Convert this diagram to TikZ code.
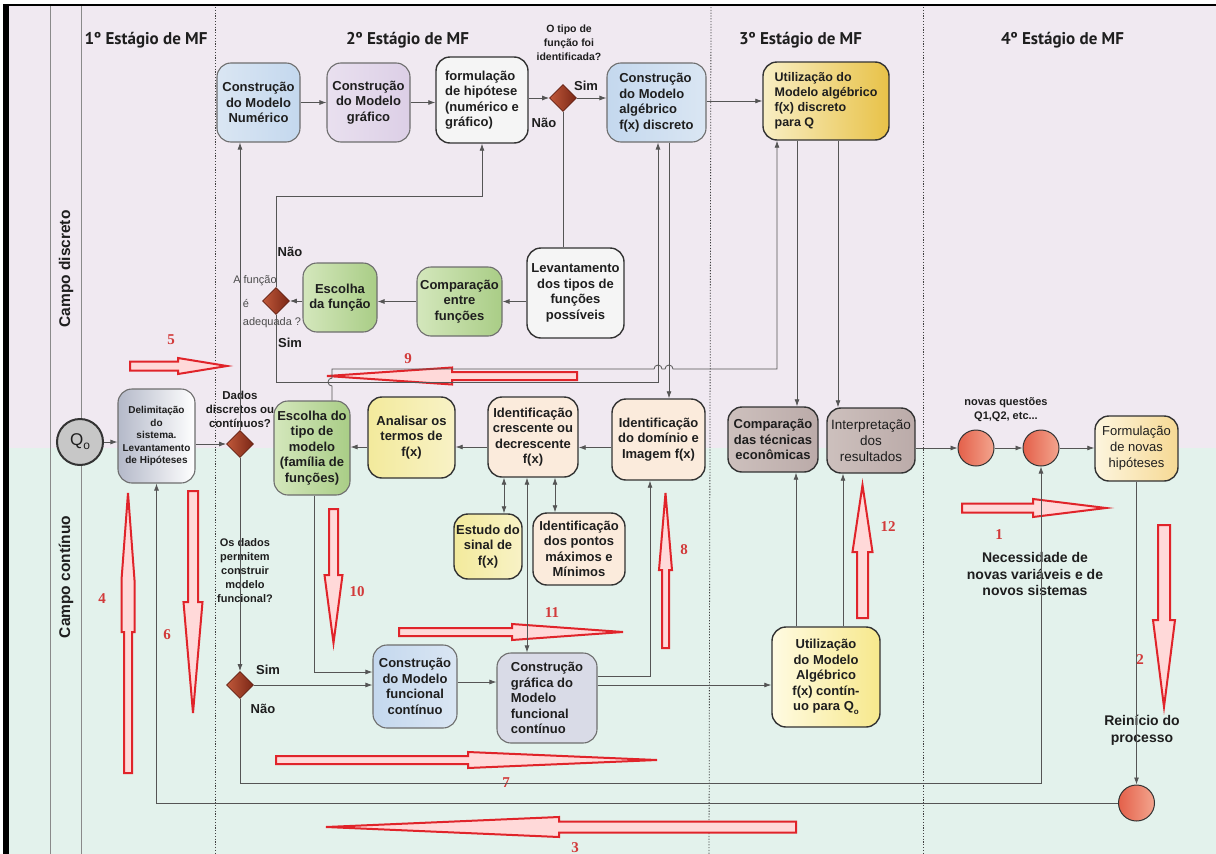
\documentclass[tikz,border=0pt]{standalone}
\usepackage{fontspec}
\setmainfont{Liberation Sans}
\newfontfamily\hdrfont{PT Sans}
\newfontfamily\numfont{Liberation Serif}
\usetikzlibrary{arrows.meta,shapes.geometric,calc}

\definecolor{lavbg}{HTML}{F0E9F1}
\definecolor{mintbg}{HTML}{E3F2EC}
\definecolor{conncol}{HTML}{555555}
\definecolor{redarr}{HTML}{E0242A}
\definecolor{rednum}{HTML}{D23A3A}
\definecolor{lanecol}{HTML}{8A8A8A}
\definecolor{boxdraw}{HTML}{6E6E6E}
\definecolor{boxdark}{HTML}{333333}
\definecolor{txt}{HTML}{1E1E1E}
\definecolor{blueA}{HTML}{DAE6F3}
\definecolor{blueB}{HTML}{C4D8EE}
\definecolor{lilA}{HTML}{E9E0EF}
\definecolor{lilB}{HTML}{DCCFE6}
\definecolor{greenA}{HTML}{D4E7BC}
\definecolor{greenB}{HTML}{A9CD86}
\definecolor{goldA}{HTML}{F8EEC4}
\definecolor{goldB}{HTML}{E8C248}
\definecolor{peachA}{HTML}{FBEBDC}
\definecolor{peachB}{HTML}{F3CFAA}
\definecolor{yelA}{HTML}{F3EA9C}
\definecolor{yelB}{HTML}{F8F2C6}
\definecolor{taupeA}{HTML}{CDC0BD}
\definecolor{taupeB}{HTML}{BBABA9}
\definecolor{creamA}{HTML}{FDF5DE}
\definecolor{creamB}{HTML}{F6D994}
\definecolor{grayblue}{HTML}{D9DBE7}
\definecolor{delimA}{HTML}{B4B9C9}
\definecolor{ucA}{HTML}{FFFBE2}
\definecolor{ucB}{HTML}{F7E88C}
\definecolor{diamA}{HTML}{C0583A}
\definecolor{diamB}{HTML}{7A2716}
\definecolor{salA}{HTML}{E4604A}
\definecolor{salB}{HTML}{F3A58E}

\tikzset{
  box/.style={draw=boxdraw, line width=1.1pt, rounded corners=14pt, align=center,
    font=\fontsize{13}{15.5}\selectfont\bfseries, text=txt, inner sep=1pt},
  darkbox/.style={box, draw=boxdark, line width=1.4pt},
  conn/.style={draw=conncol, line width=0.8pt, -{Latex[length=7pt,width=5pt]}},
  conntwo/.style={draw=conncol, line width=0.8pt, {Latex[length=7pt,width=5pt]}-{Latex[length=7pt,width=5pt]}},
  plainline/.style={draw=conncol, line width=0.8pt},
  diam/.style={diamond, minimum width=27, minimum height=27, inner sep=0pt, draw=diamB!80!black,
    line width=0.8pt, left color=diamA, right color=diamB},
  salmon/.style={circle, minimum size=36, inner sep=0pt, draw=black!80, line width=1pt,
    left color=salA, right color=salB},
  lbl/.style={font=\fontsize{10.5}{14}\selectfont\bfseries, text=txt, align=center, inner sep=0pt},
  simnao/.style={font=\fontsize{13}{13}\selectfont\bfseries, text=txt, inner sep=0pt},
  hdr/.style={font=\hdrfont\fontsize{17}{17}\selectfont\bfseries, text=txt, inner sep=0pt},
  lane/.style={font=\fontsize{15.5}{15.5}\selectfont\bfseries, text=txt, rotate=90, inner sep=0pt},
  rnum/.style={font=\numfont\fontsize{15}{15}\selectfont\bfseries, text=rednum, inner sep=0pt},
  redarrow/.style={draw=redarr, line width=2pt, fill=white!85!red, line join=miter},
  stagedot/.style={draw=black!75, line width=0.8pt, dash pattern=on 1.2pt off 1.6pt},
}

\newcommand{\redH}[7]{% tail, s1, s2, tip, y, h, H
  \draw[redarrow] (#1,#5-#6) -- (#2,#5-#6) -- (#2,#5-#7) -- (#3,#5-#7) -- (#4,#5)
    -- (#3,#5+#7) -- (#2,#5+#7) -- (#2,#5+#6) -- (#1,#5+#6) -- cycle;}
\newcommand{\redV}[7]{% tail, s1, s2, tip, x, h, H
  \draw[redarrow] (#5-#6,#1) -- (#5-#6,#2) -- (#5-#7,#2) -- (#5-#7,#3) -- (#5,#4)
    -- (#5+#7,#3) -- (#5+#7,#2) -- (#5+#6,#2) -- (#5+#6,#1) -- cycle;}

\begin{document}
\begin{tikzpicture}[x=1pt,y=-1pt]
\useasboundingbox (0,0) rectangle (1216,854);
% background
\fill[white] (0,0) rectangle (1216,854);
\fill[lavbg] (8,5) rectangle (1216,448);
\fill[mintbg] (8,448) rectangle (1216,854);
\fill[black] (3,4) rectangle (9,854);
\draw[line width=1.6pt] (3,5) -- (1216,5);
\draw[lanecol, line width=0.8pt] (50,6) -- (50,854);
\draw[lanecol, line width=0.8pt] (81,6) -- (81,854);
\draw[stagedot] (215,7) -- (215,854);
\draw[stagedot] (711,7) -- (709,854);
\draw[stagedot] (923,7) -- (923,854);

% lane and stage headers
\node[lane] (lanedisc) at (66,269) {Campo discreto};
\node[lane] (lanecont) at (66,577) {Campo contínuo};
\node[hdr] (h1) at (146,40) {1º Estágio de MF};
\node[hdr] (h2) at (407.5,40) {2º Estágio de MF};
\node[hdr] (h3) at (800.5,40) {3º Estágio de MF};
\node[hdr] (h4) at (1062.5,40) {4º Estágio de MF};

% red hollow arrows
\redH{130}{178}{178}{227}{366}{4.5}{8}
\redH{577}{452}{452}{327}{376}{4}{8.5}
\redH{399}{512}{512}{623}{632}{4}{8}
\redH{276}{468}{468}{657}{760}{4}{8}
\redH{796}{559}{559}{326}{827}{5.5}{10}
\redH{962}{1033}{1033}{1106}{508}{4.5}{9}
\redV{773}{632}{580}{493}{128}{4}{6.5}
\redV{491}{602}{602}{713}{193}{5}{9.5}
\redV{509}{575}{575}{643}{333.5}{4.5}{9}
\redV{648}{570}{570}{493}{665.5}{3.5}{6.5}
\redV{618}{552}{552}{485}{862.5}{5.5}{10}
\redV{525}{620}{620}{707}{1164}{6}{11}

% red numbers
\node[rnum] (n1) at (999,535) {1};
\node[rnum] (n2) at (1140,660) {2};
\node[rnum] (n3) at (575,848) {3};
\node[rnum] (n4) at (102,599) {4};
\node[rnum] (n5) at (171,340) {5};
\node[rnum] (n6) at (167,635) {6};
\node[rnum] (n7) at (506,783) {7};
\node[rnum] (n8) at (684,550) {8};
\node[rnum] (n9) at (408,359) {9};
\node[rnum] (n10) at (357,592) {10};
\node[rnum] (n11) at (552,613) {11};
\node[rnum] (n12) at (888,527) {12};

% ---------- nodes: discrete lane
\node[box, left color=blueA, right color=blueB, minimum width=83, minimum height=79] (numerico) at (258.5,102.5) {Construção\\do Modelo\\Numérico};
\node[box, left color=lilA, right color=lilB, minimum width=83, minimum height=79] (grafico) at (368.5,102.5) {Construção\\do Modelo\\gráfico};
\node[darkbox, fill=black!4, align=left, minimum width=92, minimum height=86] (hipotese) at (482,100) {formulação\\de hipótese\\(numérico e\\gráfico)};
\node[diam] (d1) at (563,98) {};
\node[box, left color=blueB, right color=blueA, align=left, minimum width=99, minimum height=79] (algebrico) at (656.5,102.5) {Construção\\do Modelo\\algébrico\\f(x) discreto};
\node[darkbox, left color=goldA, right color=goldB, align=left, font=\fontsize{12.5}{15}\selectfont\bfseries, minimum width=126, minimum height=78] (utildisc) at (826,101) {Utilização do\\Modelo algébrico\\f(x) discreto\\para Q};

\node[box, left color=greenA, right color=greenB, minimum width=74, minimum height=69] (escfunc) at (340,297.5) {Escolha\\da função};
\node[box, left color=greenA, right color=greenB, minimum width=85, minimum height=69] (comparacao) at (459.5,301.5) {Comparação\\entre\\funções};
\node[darkbox, fill=black!4, minimum width=97, minimum height=90] (levant) at (575.5,293) {Levantamento\\dos tipos de\\funções\\possíveis};
\node[diam] (d2) at (276,301) {};

% ---------- middle row
\node[circle, draw=boxdark, line width=2pt, fill=black!22, minimum size=46, inner sep=0pt, font=\fontsize{17}{17}\selectfont, text=txt] (q0) at (80,442) {Q\raisebox{-4pt}{\fontsize{12}{12}\selectfont o}};
\node[box, left color=delimA, right color=white, font=\fontsize{10}{12.5}\selectfont\bfseries, minimum width=77, minimum height=94] (delim) at (156.5,436) {Delimitação\\do\\sistema.\\Levantamento\\de Hipóteses};
\node[diam] (d3) at (240,444) {};
\node[box, left color=greenA, right color=greenB, minimum width=76, minimum height=94] (esctipo) at (312,448) {Escolha do\\tipo de\\modelo\\(família de\\funções)};
\node[darkbox, left color=yelA, right color=yelB, minimum width=87, minimum height=81] (analisar) at (411.5,437.5) {Analisar os\\termos de\\f(x)};
\node[darkbox, left color=peachA, middle color=peachB, right color=peachA, minimum width=90, minimum height=80] (identcresc) at (533,437) {Identificação\\crescente ou\\decrescente\\f(x)};
\node[darkbox, left color=peachA, middle color=peachB, right color=peachA, minimum width=93, minimum height=81] (identdom) at (658.5,439.5) {Identificação\\do domínio e\\Imagem f(x)};
\node[darkbox, left color=taupeA, right color=taupeB, minimum width=90, minimum height=65] (comptec) at (773,439.5) {Comparação\\das técnicas\\econômicas};
\node[darkbox, left color=taupeA, right color=taupeB, font=\fontsize{13.5}{16}\selectfont, minimum width=88, minimum height=65] (interp) at (871,440.5) {Interpretação\\dos\\resultados};
\node[salmon] (c1) at (976,448) {};
\node[salmon] (c2) at (1041,448) {};
\node[darkbox, left color=creamA, right color=creamB, font=\fontsize{13}{16}\selectfont, minimum width=83, minimum height=65] (formnovas) at (1136.5,448.5) {Formulação\\de novas\\hipóteses};

% ---------- continuous lane
\node[darkbox, left color=yelA, right color=yelB, minimum width=68, minimum height=65] (estudo) at (488,546.5) {Estudo do\\sinal de\\f(x)};
\node[darkbox, left color=peachA, middle color=peachB, right color=peachA, minimum width=92, minimum height=72] (identpts) at (579,549) {Identificação\\dos pontos\\máximos e\\Mínimos};
\node[diam] (d4) at (240,685) {};
\node[box, left color=blueB, right color=blueA, minimum width=84, minimum height=83] (constr) at (415,686.5) {Construção\\do Modelo\\funcional\\contínuo};
\node[box, fill=grayblue, align=left, minimum width=100, minimum height=90] (graffunc) at (547,698) {Construção\\gráfica do\\Modelo\\funcional\\contínuo};
\node[darkbox, left color=ucA, right color=ucB, minimum width=108, minimum height=100] (utilcont) at (826,677) {Utilização\\do Modelo\\Algébrico\\f(x) contín-\\uo para Q\raisebox{-4pt}{\fontsize{8}{8}\selectfont o}};
\node[salmon] (c3) at (1136.5,803) {};

% ---------- text labels
\node[lbl] (qtipo) at (569,43) {O tipo de\\função foi\\identificada?};
\node[simnao] (d1sim) at (586,86) {Sim};
\node[simnao] (d1nao) at (544,123) {Não};
\node[font=\fontsize{11}{11}\selectfont, text=black!70, inner sep=0pt] (afun1) at (255,281) {A função};
\node[font=\fontsize{11}{11}\selectfont, text=black!70, inner sep=0pt] (afun2) at (246,303) {é};
\node[font=\fontsize{11}{11}\selectfont, text=black!70, inner sep=0pt] (afun3) at (272,323) {adequada ?};
\node[simnao] (d2nao) at (290,252) {Não};
\node[simnao] (d2sim) at (290,343) {Sim};
\node[lbl, font=\fontsize{11.5}{14}\selectfont\bfseries] (qdados) at (240,409) {Dados\\discretos ou\\contínuos?};
\node[lbl, font=\fontsize{11}{14}\selectfont\bfseries] (qperm) at (245,571) {Os dados\\permitem\\construir\\modelo\\funcional?};
\node[simnao] (d4sim) at (268,670) {Sim};
\node[simnao] (d4nao) at (263,709) {Não};
\node[lbl, font=\fontsize{11}{14}\selectfont\bfseries] (novasq) at (1006,410) {novas questões\\Q1,Q2, etc...};
\node[lbl, font=\fontsize{14}{16.7}\selectfont\bfseries] (necess) at (1035,574) {Necessidade de\\novas variáveis e de\\novos sistemas};
\node[lbl, font=\fontsize{14}{16.7}\selectfont\bfseries] (reinicio) at (1142,730) {Reinício do\\processo};

% ---------- helper coordinates
\coordinate (j196) at (0,196);
\coordinate (j369) at (0,369);
\coordinate (j382) at (0,382);
\coordinate (j783) at (0,783);

% ---------- connectors
\draw[conn] (q0.east) -- (q0.east -| delim.west);
\draw[conn] (delim.east |- d3.west) -- (d3.west);
\draw[conn] (d3.north) -- (d3.north |- numerico.south);
\draw[conn] (d3.south) -- (d4.north);
\draw[conn] (numerico.east) -- (numerico.east -| grafico.west);
\draw[conn] (grafico.east) -- (grafico.east -| hipotese.west);
\draw[conn] (hipotese.east |- d1.west) -- (d1.west);
\draw[conn] (d1.east) -- (d1.east -| algebrico.west);
\draw[conn] (algebrico.east |- utildisc.west) -- (utildisc.west);
\draw[plainline] (d1.south) -- (d1.south |- levant.north);
\draw[conn] (comparacao.east -| levant.west) -- (comparacao.east);
\draw[conn] (comparacao.west) -- (comparacao.west -| escfunc.east);
\draw[conn] (escfunc.west |- d2.east) -- (d2.east);
\draw[conn] (d2.north) -- (d2.north |- j196) -| (hipotese.south);
\draw[conn] (d2.south) -- (d2.south |- j382) -| ([xshift=1.5pt]algebrico.south);
\draw[conn] ([xshift=12.5pt]algebrico.south) -- ([xshift=12.5pt]algebrico.south |- identdom.north);
\draw[conn] ([xshift=20pt]esctipo.north) -- (332,386) arc[start angle=90,end angle=270,radius=4]
   -- (332,369) -- (654,369) arc[start angle=180,end angle=360,radius=4]
   -- (665,369) arc[start angle=180,end angle=360,radius=4]
   -- ([xshift=-49pt]utildisc.south |- j369) -- ([xshift=-49pt]utildisc.south);
\draw[conn] ([xshift=12pt]utildisc.south) -- ([xshift=12pt]utildisc.south |- interp.north);
\draw[conn] ([xshift=-29pt]utildisc.south) -- ([xshift=-29pt]utildisc.south |- comptec.north);
\draw[conn] (interp.east |- c1.west) -- (c1.west);
\draw[conn] (c1.east) -- (c2.west);
\draw[conn] (c2.east) -- (c2.east -| formnovas.west);
\draw[conn] (formnovas.south) -- (formnovas.south |- c3.north);
\draw[conn] (c3.west) -| (delim.south);
\draw[conn] (d4.south) -- (d4.south |- j783) -| (c2.south);
\draw[conn] (d4.east) -- (d4.east -| constr.west);
\draw[conn] ([xshift=2pt]esctipo.south) |- ([yshift=14.5pt]constr.west);
\draw[conn] ([yshift=4.5pt]constr.east) -- ([yshift=4.5pt]constr.east -| graffunc.west);
\draw[conn] ([yshift=22pt]graffunc.east) -| ([xshift=-8.5pt]identdom.south);
\draw[conn] ([yshift=13pt]graffunc.east) -- ([yshift=13pt]graffunc.east -| utilcont.west);
\draw[conn] ([xshift=17pt]utilcont.north) -- ([xshift=17pt]utilcont.north |- interp.south);
\draw[conn] ([xshift=-30pt]utilcont.north) -- ([xshift=-30pt]utilcont.north |- comptec.south);
\draw[conn] ([yshift=-8pt]identdom.west) -- ([yshift=-8pt]identdom.west -| identcresc.east);
\draw[conn] ([yshift=-10pt]identcresc.west) -- ([yshift=-10pt]identcresc.west -| analisar.east);
\draw[conn] ([yshift=-9.5pt]analisar.west) -- ([yshift=-9.5pt]analisar.west -| esctipo.east);
\draw[conntwo] ([xshift=-29pt]identcresc.south) -- ([xshift=-29pt]identcresc.south |- estudo.north);
\draw[conntwo] ([xshift=22pt]identcresc.south) -- ([xshift=22pt]identcresc.south |- identpts.north);
\draw[conntwo] ([xshift=-6pt]identcresc.south) -- ([xshift=-6pt]identcresc.south |- graffunc.north);
\end{tikzpicture}
\end{document}
